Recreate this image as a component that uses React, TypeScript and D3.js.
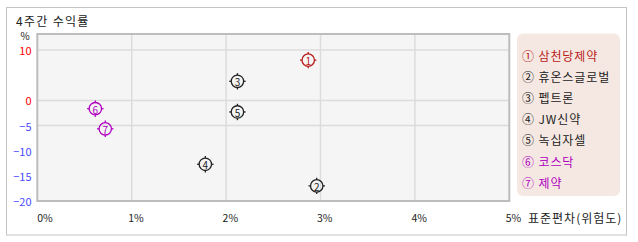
import React from "react";
import * as d3 from "d3";

const names = ["삼천당제약", "휴온스글로벌", "펩트론", "JW신약", "녹십자셀", "코스닥", "제약"];
const marks = ["①", "②", "③", "④", "⑤", "⑥", "⑦"];
const riskX = [2.87, 2.96, 2.12, 1.78, 2.12, 0.615, 0.72];
const returnY = [8.0, -17.0, 3.8, -12.7, -2.3, -1.65, -5.65];
const colors = ["#b81c1c", "#222", "#222", "#222", "#222", "#b000c0", "#b000c0"];
const xTicks = [0, 1, 2, 3, 4, 5];
const yTicks = [10, 0, -5, -10, -15, -20];
const yGrid = [10, 0, -5];

const FONT = "'Noto Sans CJK KR', 'Noto Sans', sans-serif";

export default function App() {
  const x = d3.scaleLinear().domain([0, 5]).range([37.3, 509.3]);
  const y = d3.scaleLinear().domain([-20, 13.2]).range([201, 34]);
  const [x0, x1] = x.range();
  const [y0, y1] = y.range();
  return (
    <svg width={638} height={242} style={{ position: "absolute", left: 0, top: 0 }} fontFamily={FONT}>
      <rect x={0} y={0} width={638} height={242} fill="#fff" />
      <rect x={6.5} y={7.5} width={620} height={227.5} fill="#fff" stroke="#c4c4c4" strokeWidth={1} />
      <text x={16} y={20} fontSize={12} fill="#222" letterSpacing={1.3} dominantBaseline="central">4주간 수익률</text>
      <rect x={x0} y={y1} width={x1 - x0} height={y0 - y1} fill="#f5f5f5" />
      {yGrid.map((v) => (
        <line key={"gy" + v} x1={x0} x2={x1} y1={y(v)} y2={y(v)} stroke="#dcdcdc" strokeWidth={1.5} />
      ))}
      {xTicks.slice(1, -1).map((v) => (
        <line key={"gx" + v} x1={x(v)} x2={x(v)} y1={y1} y2={y0} stroke="#dcdcdc" strokeWidth={1.5} />
      ))}
      <path d={`M${x0},${y0}V${y1}H${x1}V${y0}H${x0}Z`} fill="none" stroke="#bdbdbd" strokeWidth={2} />
      <text x={25} y={35} fontSize={10} fill="#222" textAnchor="middle" dominantBaseline="central">%</text>
      {yTicks.map((v) => (
        <text key={"yt" + v} x={31.5} y={y(v)} fontSize={11} textAnchor="end" dominantBaseline="central"
          fill={v >= 0 ? "#ff0000" : "#4a4aff"}>
          {v < 0 ? "\u2212" + Math.abs(v) : v}
        </text>
      ))}
      {xTicks.map((v) => (
        <text key={"xt" + v} x={v === 0 ? x(v) : x(v) - 3.5} y={217} fontSize={10.5} fill="#222" dominantBaseline="central">
          {v + "%"}
        </text>
      ))}
      <text x={528} y={217} fontSize={12} fill="#222" letterSpacing={1} dominantBaseline="central">표준편차(위험도)</text>
      <rect x={517} y={33.5} width={103} height={162.5} rx={6} fill="#f5e8e2" />
      {names.map((n, i) => (
        <text key={"lg" + i} x={522} y={55 + i * 21.2} fontSize={12} fill={colors[i]} letterSpacing={0.9} dominantBaseline="central">
          {marks[i] + " " + n}
        </text>
      ))}
      {names.map((n, i) => {
        const cx = x(riskX[i]);
        const cy = y(returnY[i]);
        const r = 6.2;
        return (
          <g key={"pt" + i} transform={`translate(${cx},${cy})`}>
            <circle r={r} fill="none" stroke={colors[i]} strokeWidth={1.3} />
            <line x1={0} x2={0} y1={-r - 2} y2={-r} stroke={colors[i]} strokeWidth={1.3} />
            <line x1={0} x2={0} y1={r} y2={r + 2} stroke={colors[i]} strokeWidth={1.3} />
            <line x1={-r - 2} x2={-r} y1={0} y2={0} stroke={colors[i]} strokeWidth={1.3} />
            <line x1={r} x2={r + 2} y1={0} y2={0} stroke={colors[i]} strokeWidth={1.3} />
            <text x={0} y={0.5} fontSize={10} fill={colors[i]} textAnchor="middle" dominantBaseline="central">
              {i + 1}
            </text>
          </g>
        );
      })}
    </svg>
  );
}
